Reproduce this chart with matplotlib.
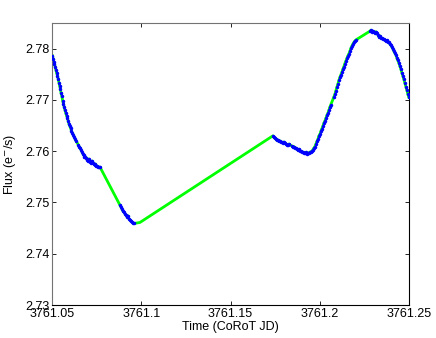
import matplotlib
matplotlib.use("Agg")
import matplotlib.pyplot as plt
import numpy as np

# Time offsets from 3761.0 (days) and flux (e-/s)
t_a = [0.05028, 0.05067, 0.05101, 0.05140, 0.05185, 0.05224, 0.05263, 0.05308, 0.05347, 0.05392,
       0.05431, 0.05470, 0.05510, 0.05549, 0.05599, 0.05638, 0.05683, 0.05728, 0.05773, 0.05818,
       0.05862, 0.05907, 0.05952, 0.05997, 0.06042, 0.06092, 0.06142, 0.06193, 0.06243, 0.06294,
       0.06344, 0.06484, 0.06534, 0.06585, 0.06635, 0.06680, 0.06725, 0.06770, 0.06820, 0.06870,
       0.06921, 0.06971, 0.07016, 0.07061, 0.07106, 0.07156, 0.07206, 0.07251, 0.07296, 0.07341,
       0.07391, 0.07436, 0.07481, 0.07531, 0.07576, 0.07632, 0.07688]
f_a = [2.7786, 2.7780, 2.7774, 2.7770, 2.7764, 2.7758, 2.7752, 2.7747, 2.7741, 2.7733,
       2.7727, 2.7721, 2.7713, 2.7708, 2.7698, 2.7692, 2.7686, 2.7680, 2.7674, 2.7669,
       2.7665, 2.7659, 2.7653, 2.7649, 2.7645, 2.7639, 2.7635, 2.7632, 2.7628, 2.7624,
       2.7620, 2.7612, 2.7608, 2.7606, 2.7602, 2.7598, 2.7595, 2.7593, 2.7589, 2.7589,
       2.7587, 2.7583, 2.7581, 2.7585, 2.7581, 2.7579, 2.7577, 2.7581, 2.7577, 2.7575,
       2.7573, 2.7575, 2.7571, 2.7571, 2.7569, 2.7569, 2.7569]

t_b = [0.08808, 0.08864, 0.08920, 0.08976, 0.09032, 0.09088, 0.09144, 0.09200, 0.09256, 0.09312,
       0.09368, 0.09424, 0.09480, 0.09536, 0.09592]
f_b = [2.7495, 2.7491, 2.7487, 2.7483, 2.7481, 2.7478, 2.7476, 2.7472, 2.7474, 2.7468,
       2.7466, 2.7464, 2.7462, 2.7460, 2.7459]

# point covered only by the interpolating line
t_g = [0.09928]
f_g = [2.7461]

t_c = [0.17376, 0.17432, 0.17488, 0.17544, 0.17600, 0.17656, 0.17712, 0.17768, 0.17824, 0.17880,
       0.17936, 0.17992, 0.18048, 0.18104, 0.18160, 0.18216, 0.18272, 0.18440, 0.18496, 0.18552,
       0.18608, 0.18664, 0.18720, 0.18776, 0.18832, 0.18888, 0.18944, 0.19000, 0.19056, 0.19112,
       0.19168, 0.19224, 0.19280, 0.19336, 0.19392, 0.19448, 0.19504, 0.19560, 0.19616, 0.19672,
       0.19728, 0.19784, 0.19840, 0.19896, 0.19952, 0.20008, 0.20064, 0.20120, 0.20176, 0.20232,
       0.20288, 0.20344, 0.20400, 0.20456, 0.20512, 0.20568, 0.20624, 0.20792, 0.20848, 0.20904,
       0.20960, 0.21016, 0.21072, 0.21128, 0.21184, 0.21240, 0.21296, 0.21352, 0.21408, 0.21464,
       0.21520, 0.21576, 0.21632, 0.21688, 0.21744, 0.21800, 0.21856, 0.21912, 0.21968, 0.22024,
       0.22808, 0.22864, 0.22920, 0.22976, 0.23032, 0.23088, 0.23144, 0.23200, 0.23256, 0.23312,
       0.23368, 0.23424, 0.23480, 0.23536, 0.23592, 0.23648, 0.23704, 0.23760, 0.23816, 0.23872,
       0.23928, 0.23984, 0.24040, 0.24096, 0.24152, 0.24208, 0.24264, 0.24320, 0.24376, 0.24432,
       0.24488, 0.24544, 0.24600, 0.24656, 0.24712, 0.24768, 0.24824, 0.24880, 0.24936, 0.24992]
f_c = [2.7630, 2.7627, 2.7625, 2.7624, 2.7621, 2.7622, 2.7619, 2.7620, 2.7618, 2.7617,
       2.7616, 2.7618, 2.7615, 2.7614, 2.7613, 2.7612, 2.7614, 2.7610, 2.7608, 2.7609,
       2.7606, 2.7606, 2.7604, 2.7602, 2.7604, 2.7601, 2.7600, 2.7599, 2.7598, 2.7597,
       2.7596, 2.7598, 2.7595, 2.7596, 2.7597, 2.7598, 2.7599, 2.7600, 2.7603, 2.7606,
       2.7609, 2.7614, 2.7619, 2.7623, 2.7630, 2.7633, 2.7639, 2.7644, 2.7649, 2.7655,
       2.7659, 2.7664, 2.7670, 2.7674, 2.7680, 2.7686, 2.7691, 2.7706, 2.7711, 2.7718,
       2.7725, 2.7731, 2.7738, 2.7744, 2.7749, 2.7754, 2.7760, 2.7765, 2.7771, 2.7776,
       2.7781, 2.7786, 2.7790, 2.7795, 2.7801, 2.7805, 2.7809, 2.7812, 2.7815, 2.7817,
       2.7834, 2.7836, 2.7833, 2.7834, 2.7832, 2.7831, 2.7833, 2.7830, 2.7827, 2.7823,
       2.7825, 2.7821, 2.7820, 2.7819, 2.7818, 2.7817, 2.7815, 2.7816, 2.7813, 2.7812,
       2.7809, 2.7807, 2.7803, 2.7800, 2.7795, 2.7791, 2.7788, 2.7782, 2.7777, 2.7772,
       2.7766, 2.7760, 2.7753, 2.7747, 2.7740, 2.7733, 2.7726, 2.7719, 2.7711, 2.7705]

t0 = 3761.0
xticks = [3761.05, 3761.1, 3761.15, 3761.2, 3761.25]
xticklabels = ["3761.05", "3761.1", "3761.15", "3761.2", "3761.25"]
yticks = [2.73, 2.74, 2.75, 2.76, 2.77, 2.78]
yticklabels = ["2.73", "2.74", "2.75", "2.76", "2.77", "2.78"]

plt.rcParams['font.family'] = ['Liberation Sans', 'DejaVu Sans']

fig = plt.figure(figsize=(4.36, 3.38), dpi=100)
ax = fig.add_axes([52/436, 33/338, (409-52)/436, (305-23)/338])

t_line = np.array(t_a + t_b + t_g + t_c) + t0
f_line = np.array(f_a + f_b + f_g + f_c)
t_dots = np.array(t_a + t_b + t_c) + t0
f_dots = np.array(f_a + f_b + f_c)

ax.plot(t_line, f_line, color=(0, 1, 0), lw=2.0, zorder=2)
ax.plot(t_dots, f_dots, ls='none', marker='.', ms=3.0, color=(0, 0, 1), zorder=3)

ax.set_xlim(3761.05, 3761.25)
ax.set_ylim(2.73, 2.785)
ax.set_xticks(xticks)
ax.set_xticklabels(xticklabels)
ax.set_yticks(yticks)
ax.set_yticklabels(yticklabels)
ax.tick_params(direction='in', length=3, width=0.6, top=True, right=True,
               labelsize=9, pad=2, colors='black')
for side in ['top', 'left']:
    ax.spines[side].set_color('0.45')
for side in ['bottom', 'right']:
    ax.spines[side].set_color('black')
for sp in ax.spines.values():
    sp.set_linewidth(0.8)

ax.set_xlabel('Time (CoRoT JD)', fontsize=9, labelpad=1)
ax.set_ylabel('Flux (e$^{-}$/s)', fontsize=9, labelpad=5)

fig.savefig('out.png', dpi=100)
